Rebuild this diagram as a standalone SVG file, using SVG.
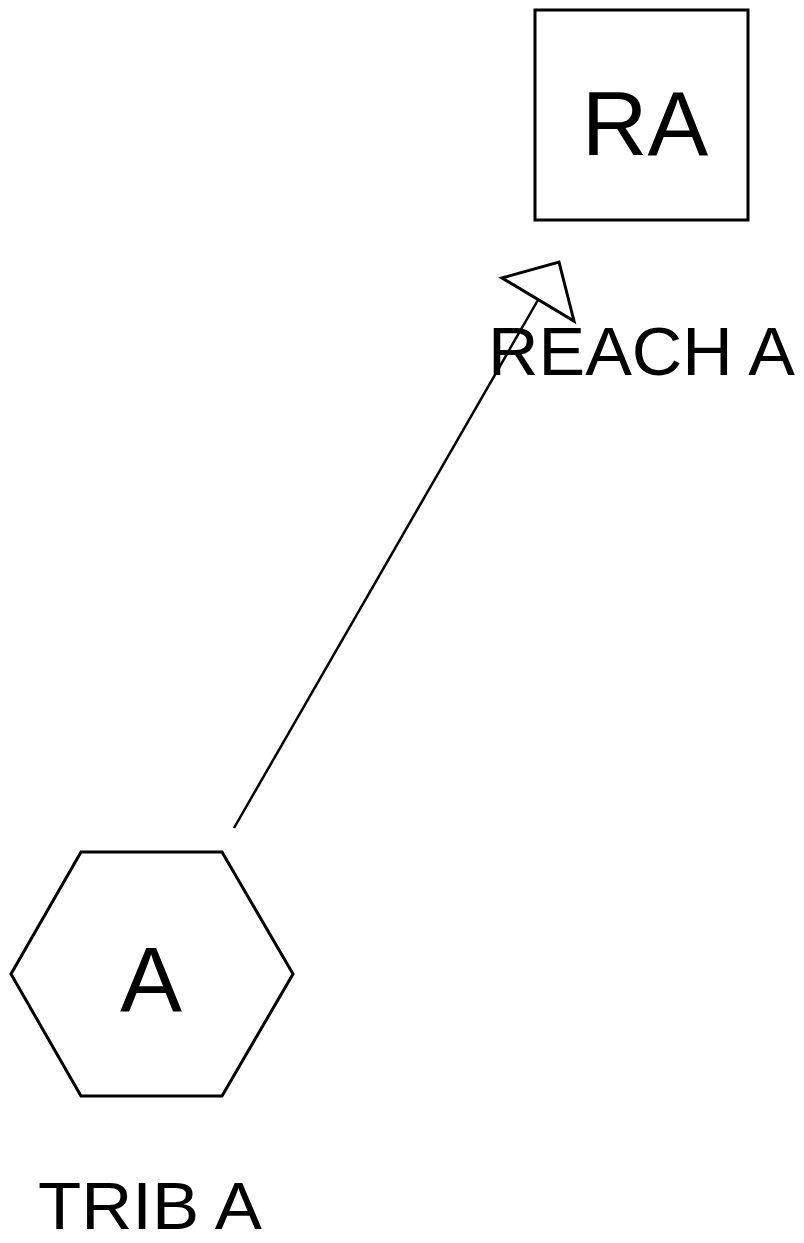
<svg xmlns="http://www.w3.org/2000/svg" width="804" height="1243" viewBox="0 0 804 1243">
<style>
.shape{fill:#fff;stroke:#000;stroke-width:3}
.lbl{font-family:"Liberation Sans",Arial,sans-serif;fill:#000}
.edge{stroke:#000;stroke-width:2.5;fill:none}
</style>
<rect width="804" height="1243" fill="#fff"/>
<g id="connectors">
<line class="edge" x1="234" y1="828" x2="538" y2="300"/>
<polygon points="502,278 559,262 574,321" fill="#fff" stroke="#000" stroke-width="3" stroke-linejoin="miter"/>
</g>
<g id="node-RA">
<rect class="shape" x="535" y="10" width="213" height="210"/>
<text class="lbl" x="645" y="155" font-size="91" text-anchor="middle">RA</text>
<text class="lbl" x="488" y="375" font-size="69" textLength="307" lengthAdjust="spacingAndGlyphs">REACH A</text>
</g>
<g id="node-A">
<polygon class="shape" points="11,974 81,852 222,852 293,974 222,1096 81,1096"/>
<text class="lbl" x="151" y="1012" font-size="93" text-anchor="middle">A</text>
<text class="lbl" x="38" y="1229" font-size="67" textLength="224" lengthAdjust="spacingAndGlyphs">TRIB A</text>
</g>
</svg>
